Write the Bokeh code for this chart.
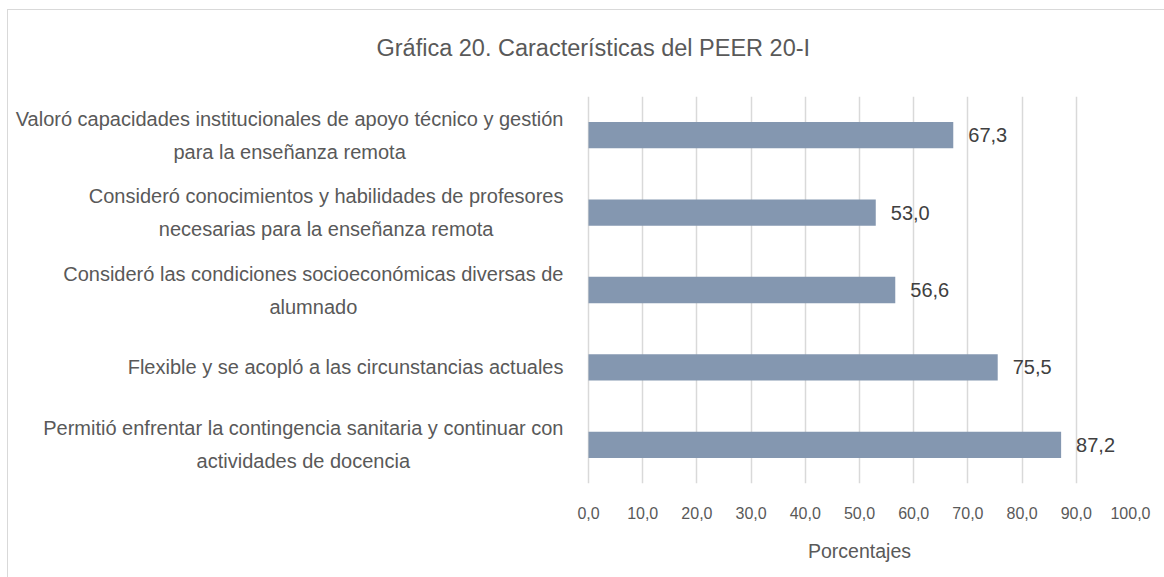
from bokeh.plotting import figure
from bokeh.models import ColumnDataSource, FactorRange, FixedTicker, Range1d, Title
from bokeh.embed import file_html
from bokeh.resources import INLINE
from bokeh.core.properties import value

# ---- data ----
categories = [
    "Permitió enfrentar la contingencia sanitaria y continuar con\nactividades de docencia",
    "Flexible y se acopló a las circunstancias actuales",
    "Consideró las condiciones socioeconómicas diversas de\nalumnado",
    "Consideró conocimientos y habilidades de profesores\nnecesarias para la enseñanza remota",
    "Valoró capacidades institucionales de apoyo técnico y gestión\npara la enseñanza remota",
]
values = [87.2, 75.5, 56.6, 53.0, 67.3]
ticks = [0, 10, 20, 30, 40, 50, 60, 70, 80, 90, 100]
title_text = "Gráfica 20. Características del PEER 20-I"
x_title = "Porcentajes"

# ---- style / layout ----
FONT = "Liberation Sans"
GRID = "#d9d9d9"
TXT = "#595959"
LABEL_SIZE = 20
LABEL_STANDOFF = 25
W, H = 1164, 577
AXIS_PX = 588          # canvas x of value 0
PLOT_PX = 542          # pixels for 0..100
TOP, BOTTOM = 96, 90


def fmt(v):
    return f"{v:.1f}".replace(".", ",")


def text_width(s, size):
    try:
        from PIL import ImageFont
        f = ImageFont.truetype("LiberationSans-Regular.ttf", size)
        return max(f.getlength(line) for line in s.split("\n"))
    except Exception:
        return max(len(line) for line in s.split("\n")) * size * 0.47


xoff = [-(LABEL_STANDOFF + text_width(c, LABEL_SIZE) / 2) for c in categories]

source = ColumnDataSource(dict(cat=categories, val=values, lbl=[fmt(v) for v in values],
                               zero=[0] * len(values), xoff=xoff))

x_start = -100.0 * AXIS_PX / PLOT_PX
p = figure(
    width=W, height=H,
    y_range=FactorRange(*categories, range_padding=0),
    x_range=Range1d(x_start, 100),
    output_backend="svg", toolbar_location=None,
    min_border_left=0, min_border_right=W - AXIS_PX - PLOT_PX,
    min_border_top=TOP, min_border_bottom=BOTTOM,
)
# chart-area border (left and top edges), drawn behind a transparent canvas
p.border_fill_color = None
p.background_fill_color = None
p.styles = {
    "background-color": "white",
    "box-shadow": ("inset 0 9px 0 0 white, inset 7px 0 0 0 white, "
                   "inset 0 10px 0 0 #d9d9d9, inset 8px 0 0 0 #d9d9d9"),
}
p.outline_line_color = None

p.title.text = title_text
p.title.align = "left"
p.title.vertical_align = "top"
p.title.offset = 376
p.title.text_font = FONT
p.title.text_font_size = "23.5px"
p.title.text_font_style = "normal"
p.title.text_color = TXT
p.title.standoff = 68

p.hbar(y="cat", right="val", height=0.34, source=source, color="#8497B0", line_color=None)
p.text(x="val", y="cat", text="lbl", source=source, x_offset=15,
       text_baseline="middle", text_align="left",
       text_font=value(FONT), text_font_size="20px", text_color="#404040")

# category labels (centred lines, block right-aligned to the axis)
p.text(x="zero", y="cat", text="cat", x_offset="xoff", source=source,
       text_align="center", text_baseline="middle",
       text_font=value(FONT), text_font_size=f"{LABEL_SIZE}px",
       text_color=TXT, text_line_height=1.5)

p.xaxis.ticker = FixedTicker(ticks=ticks)
p.xaxis.major_label_overrides = {t: fmt(t) for t in ticks}
p.xaxis.axis_line_color = None
p.xaxis.major_tick_line_color = None
p.xaxis.minor_tick_line_color = None
p.xaxis.major_label_text_font = FONT
p.xaxis.major_label_text_font_size = "16px"
p.xaxis.major_label_text_color = TXT
p.xaxis.major_label_standoff = 17

AXT_SIZE = 19.5
axt_w = text_width(x_title, AXT_SIZE)
xt = Title(text=x_title, align="left", offset=AXIS_PX + PLOT_PX / 2 - axt_w / 2,
           text_font=FONT, text_font_size=f"{AXT_SIZE}px", text_font_style="normal",
           text_color=TXT, standoff=32)
p.add_layout(xt, "below")

p.yaxis.visible = False

p.xgrid.grid_line_color = GRID
p.xgrid.grid_line_width = 1.5
p.ygrid.grid_line_color = None

open("out.html", "w").write(file_html(p, INLINE))
